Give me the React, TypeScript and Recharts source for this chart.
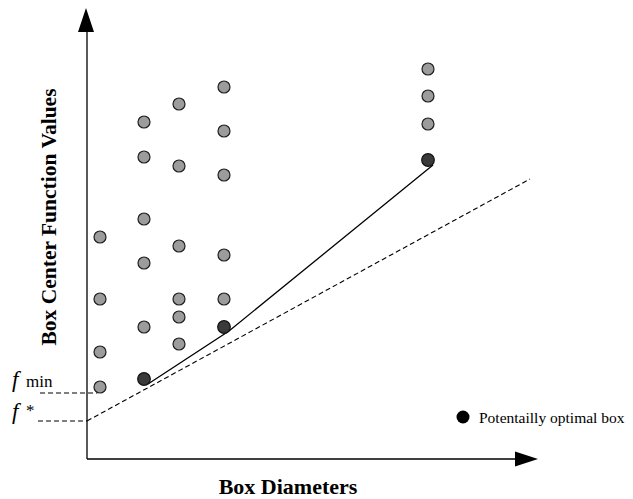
import React from "react";
import {
  ScatterChart,
  Scatter,
  XAxis,
  YAxis,
  ReferenceLine,
  ReferenceDot,
} from "recharts";

// box diameters (x) and centre function values (y)
const boxes = [
  { x: 13, y: 222 }, { x: 13, y: 160 }, { x: 13, y: 107 }, { x: 13, y: 72 },
  { x: 57, y: 337 }, { x: 57, y: 302 }, { x: 57, y: 240 }, { x: 57, y: 196 }, { x: 57, y: 132 },
  { x: 92, y: 355 }, { x: 92, y: 293 }, { x: 92, y: 213 }, { x: 92, y: 160 }, { x: 92, y: 142 }, { x: 92, y: 115 },
  { x: 137, y: 372 }, { x: 137, y: 328 }, { x: 137, y: 284 }, { x: 137, y: 204 }, { x: 137, y: 160 },
  { x: 341, y: 390 }, { x: 341, y: 363 }, { x: 341, y: 335 },
];

const optimal = [
  { x: 57, y: 80 },
  { x: 137, y: 132 },
  { x: 341, y: 299 },
];

// lower convex hull through the potentially optimal boxes
const hull = [
  { x: 61, y: 75 },
  { x: 142, y: 128 },
  { x: 346, y: 294 },
];

const lowerBound = [
  { x: 0, y: 38 },
  { x: 443, y: 280 },
];

const legendPoint = [{ x: 376, y: 42 }];

const fMin = 66;
const fStar = 38;
const xEnd = 451;
const yEnd = 451;

const serif = "Liberation Serif, Times New Roman, serif";

const GrayDot = (props: any) => (
  <circle cx={props.cx} cy={props.cy} r={6} fill="#9c9c9c" stroke="#1e1e1e" strokeWidth={1.2} />
);
const DarkDot = (props: any) => (
  <circle cx={props.cx} cy={props.cy} r={6.3} fill="#3a3a3a" stroke="#111" strokeWidth={1.2} />
);
const BlackDot = (props: any) => (
  <circle cx={props.cx} cy={props.cy} r={6.5} fill="#000" />
);
const NoDot = () => null;

const ArrowRight = (props: any) => (
  <polygon
    points={`${props.cx},${props.cy} ${props.cx - 23},${props.cy - 7.5} ${props.cx - 23},${props.cy + 7.5}`}
    fill="#000"
  />
);
const ArrowUp = (props: any) => (
  <polygon
    points={`${props.cx},${props.cy} ${props.cx - 8},${props.cy + 24} ${props.cx + 8},${props.cy + 24}`}
    fill="#000"
  />
);

export default function App() {
  return (
    <div style={{ position: "relative", width: 625, height: 491, background: "#fff" }}>
      <ScatterChart width={625} height={491} margin={{ top: 0, right: 0, bottom: 0, left: 0 }}>
        <XAxis type="number" dataKey="x" domain={[-79, 546]} hide allowDataOverflow />
        <YAxis type="number" dataKey="y" domain={[-40, 451]} hide allowDataOverflow />

        {/* axes */}
        <ReferenceLine segment={[{ x: 0, y: 0 }, { x: xEnd - 10, y: 0 }]} stroke="#000" strokeWidth={1.3} />
        <ReferenceLine segment={[{ x: 0, y: 0 }, { x: 0, y: yEnd - 10 }]} stroke="#000" strokeWidth={1.3} />
        <ReferenceDot x={xEnd} y={0} shape={ArrowRight} />
        <ReferenceDot x={-1} y={yEnd} shape={ArrowUp} />

        {/* f_min and f* guides */}
        <ReferenceLine segment={[{ x: -47, y: fMin }, { x: 10, y: fMin }]} stroke="#000" strokeDasharray="5 3" strokeWidth={1.1} />
        <ReferenceLine segment={[{ x: -49, y: fStar }, { x: 0, y: fStar }]} stroke="#000" strokeDasharray="5 3" strokeWidth={1.1} />

        {/* lower bound line */}
        <ReferenceLine
          segment={[lowerBound[0], lowerBound[1]]}
          stroke="#000"
          strokeDasharray="5 3"
          strokeWidth={1.1}
        />

        <Scatter data={hull} line={{ stroke: "#000", strokeWidth: 1.3 }} shape={NoDot} isAnimationActive={false} />
        <Scatter data={boxes} shape={GrayDot} isAnimationActive={false} />
        <Scatter data={optimal} shape={DarkDot} isAnimationActive={false} />
        <Scatter data={legendPoint} shape={BlackDot} isAnimationActive={false} />
      </ScatterChart>

      <svg
        width={625}
        height={491}
        style={{ position: "absolute", left: 0, top: 0, pointerEvents: "none" }}
      >
        <text x={4} y={379} fontFamily={serif} fontStyle="italic" fontSize={23}>f</text>
        <text x={18} y={379} fontFamily={serif} fontSize={17}>min</text>
        <text x={4} y={411} fontFamily={serif} fontStyle="italic" fontSize={23}>f</text>
        <text x={18} y={408} fontFamily={serif} fontSize={17}>*</text>
        <text
          x={48}
          y={209}
          transform="rotate(-90, 48, 209)"
          textAnchor="middle"
          fontFamily={serif}
          fontWeight="bold"
          fontSize={21.5}
        >
          Box Center Function Values
        </text>
        <text x={280} y={486} textAnchor="middle" fontFamily={serif} fontWeight="bold" fontSize={22}>
          Box Diameters
        </text>
        <text x={471} y={415} fontFamily={serif} fontSize={15.5}>
          Potentailly optimal box
        </text>
      </svg>
    </div>
  );
}
